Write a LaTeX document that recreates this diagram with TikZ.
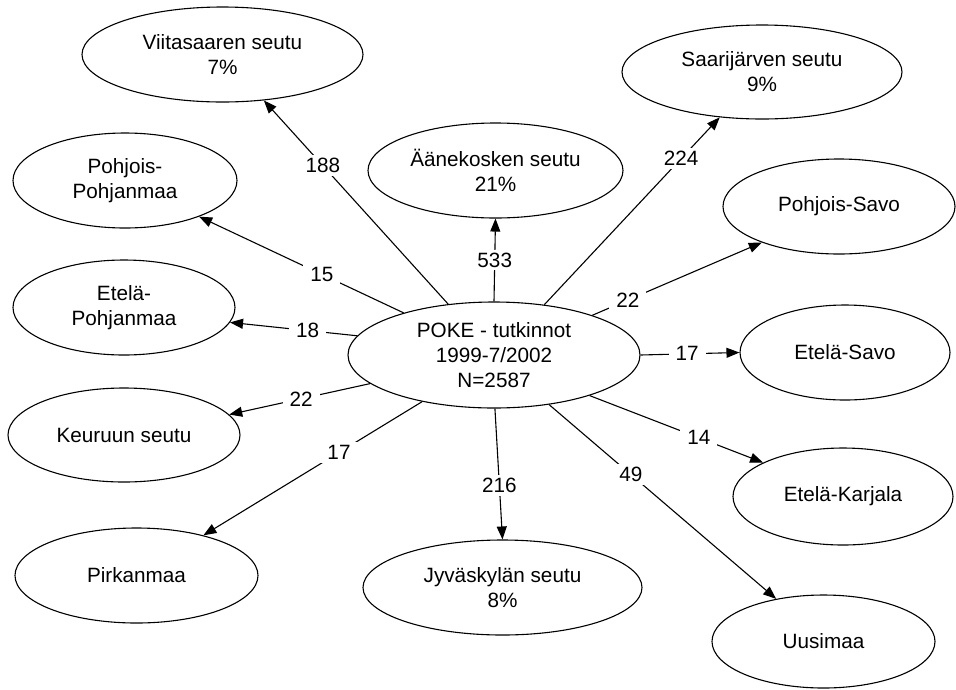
\documentclass[tikz,border=0pt]{standalone}
\usepackage{fontspec}
\setmainfont{Liberation Sans}
\usetikzlibrary{shapes.geometric,arrows.meta}
\begin{document}
\begin{tikzpicture}[x=1pt,y=-1pt,
  every node/.style={font=\fontsize{20.7}{25}\selectfont},
  region/.style={draw, line width=1.1pt, ellipse, inner sep=0pt, align=center},
  link/.style={line width=1.1pt, -{Triangle[length=13pt,width=10pt]}},
  num/.style={fill=white, inner xsep=7pt, inner ysep=3pt},
]
\useasboundingbox (0,0) rectangle (956,689);
\node[region, minimum width=292pt, minimum height=106pt] (poke) at (494,355) {POKE - tutkinnot\\1999-7/2002\\N=2587};
\node[region, minimum width=281pt, minimum height=95pt] (viita) at (222.5,54.5) {Viitasaaren seutu\\7\%};
\node[region, minimum width=255pt, minimum height=95pt] (aane) at (495.5,170.5) {Äänekosken seutu\\21\%};
\node[region, minimum width=280pt, minimum height=94pt] (saari) at (762,72) {Saarijärven seutu\\9\%};
\node[region, minimum width=224pt, minimum height=95pt] (ppohj) at (125,180.5) {Pohjois-\\Pohjanmaa};
\node[region, minimum width=232pt, minimum height=95pt] (psavo) at (839,206.5) {Pohjois-Savo};
\node[region, minimum width=222pt, minimum height=95pt] (epohj) at (124,307.5) {Etelä-\\Pohjanmaa};
\node[region, minimum width=210pt, minimum height=95pt] (esavo) at (845,352.5) {Etelä-Savo};
\node[region, minimum width=232pt, minimum height=94pt] (keuruu) at (124,435) {Keuruun seutu};
\node[region, minimum width=220pt, minimum height=97pt] (ekarj) at (843,496.5) {Etelä-Karjala};
\node[region, minimum width=243pt, minimum height=95pt] (pirk) at (136.5,575.5) {Pirkanmaa};
\node[region, minimum width=279pt, minimum height=95pt] (jyva) at (502.5,587.5) {Jyväskylän seutu\\8\%};
\node[region, minimum width=223pt, minimum height=93pt] (uusi) at (823.5,641.5) {Uusimaa};

\draw[link] (poke.132.6) -- node[num,pos=0.68]{188} (viita.-48);
\draw[link] (poke.155.2) -- node[num,pos=0.40]{15} (ppohj.-26.6);
\draw[link] (poke.90) -- node[num,pos=0.5]{533} (aane.-90);
\draw[link] (poke.45.6) -- node[num,pos=0.78]{224} (saari.-133);
\draw[link] (poke.22.1) -- node[num,pos=0.21]{22} (psavo.-155.5);
\draw[link] (poke.0) -- node[num,pos=0.47]{17} (esavo.180);
\draw[link] (poke.-23) -- node[num,pos=0.63]{14} (ekarj.157.5);
\draw[link] (poke.-42) -- node[num,pos=0.36]{49} (uusi.138.6);
\draw[link] (poke.-89) -- node[num,pos=0.59]{216} (jyva.90);
\draw[link] (poke.-147.7) -- node[num,pos=0.38]{17} (pirk.31.3);
\draw[link] (poke.-167.8) -- node[num,pos=0.49]{22} (keuruu.11.7);
\draw[link] (poke.172.9) -- node[num,pos=0.39]{18} (epohj.-8.2);
\end{tikzpicture}
\end{document}
